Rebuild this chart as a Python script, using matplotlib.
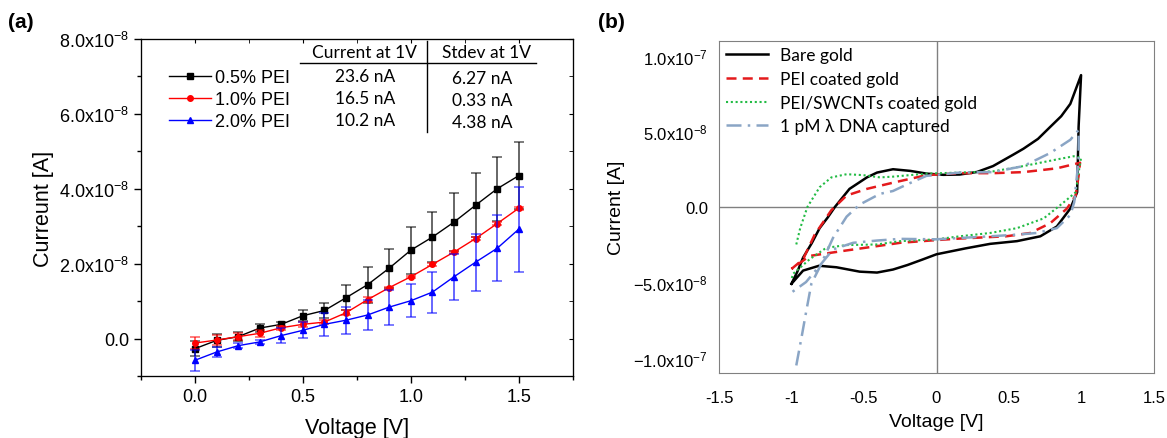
import numpy as np
import matplotlib
matplotlib.use("Agg")
import matplotlib.pyplot as plt
from matplotlib.lines import Line2D
from matplotlib.ticker import MultipleLocator, FuncFormatter

plt.rcParams.update({"font.family": "Liberation Sans",
                     "mathtext.default": "regular",
                     "axes.unicode_minus": False})

# ---- panel (a): I-V with error bars
voltage = [0.0, 0.1, 0.2, 0.3, 0.4, 0.5, 0.6, 0.7, 0.8, 0.9, 1.0, 1.1, 1.2, 1.3, 1.4, 1.5]
pei_05 = [-2.7, -0.5, 0.5, 2.8, 3.8, 6.1, 7.5, 10.9, 14.4, 18.8, 23.6, 27.1, 31.1, 35.6, 40.0, 43.5]
pei_05_err = [2.0, 1.8, 1.2, 1.0, 0.6, 1.5, 2.0, 3.4, 4.8, 5.2, 6.27, 6.6, 7.8, 8.6, 8.5, 8.9]
pei_10 = [-1.2, -0.4, 0.5, 1.4, 2.9, 3.8, 4.4, 6.9, 10.4, 13.6, 16.5, 19.8, 23.1, 26.7, 30.7, 34.8]
pei_10_err = [1.6, 1.3, 1.0, 1.0, 0.5, 0.7, 0.5, 0.6, 0.7, 0.3, 0.33, 0.3, 0.3, 0.4, 0.4, 0.4]
pei_20 = [-5.8, -3.6, -1.9, -0.9, 0.8, 2.2, 3.8, 4.9, 6.3, 8.4, 10.1, 12.4, 16.5, 20.4, 24.1, 29.2]
pei_20_err = [2.8, 1.4, 0.6, 0.6, 2.0, 2.1, 3.0, 3.6, 4.0, 4.7, 4.38, 5.5, 6.1, 7.6, 8.8, 11.3]
labels_a = ["0.5% PEI", "1.0% PEI", "2.0% PEI"]
table_head = ["Current at 1V", "Stdev at 1V"]
table_current = ["23.6 nA", "16.5 nA", "10.2 nA"]
table_stdev = ["6.27 nA", "0.33 nA", "4.38 nA"]

# ---- panel (b): cyclic voltammograms (current in 1e-8 A)
bare_v = [-1.0, -0.96, -0.92, -0.86, -0.806, -0.75, -0.70, -0.60, -0.48, -0.41, -0.30, -0.18, -0.068,
          0.047, 0.16, 0.28, 0.39, 0.53, 0.60, 0.70, 0.785, 0.86, 0.923, 0.997, 0.98, 0.97, 0.923,
          0.83, 0.716, 0.555, 0.37, 0.2, 0.0, -0.1, -0.2, -0.3, -0.41, -0.53, -0.69, -0.81, -0.92, -1.0]
bare_i = [-5.09, -4.3, -3.36, -2.4, -1.41, -0.7, 0.0, 1.19, 1.95, 2.27, 2.49, 2.38, 2.2,
          2.12, 2.14, 2.31, 2.7, 3.46, 3.85, 4.5, 5.3, 6.0, 6.82, 8.72, 5.3, 0.97, -0.11,
          -1.3, -1.95, -2.27, -2.45, -2.75, -3.14, -3.5, -3.85, -4.15, -4.35, -4.29, -4.0, -3.9, -4.22, -5.09]
pei_v = [-1.0, -0.92, -0.84, -0.725, -0.62, -0.48, -0.30, -0.068, 0.16, 0.39, 0.60, 0.83, 0.99,
         0.98, 0.96, 0.90, 0.785, 0.647, 0.48, 0.37, 0.16, 0.0, -0.25, -0.41, -0.645, -0.875, -1.0]
pei_i = [-4.11, -3.47, -1.84, -0.22, 0.75, 1.19, 1.6, 2.1, 2.23, 2.23, 2.3, 2.55, 2.92,
         2.06, 0.76, -0.11, -1.08, -1.73, -1.95, -2.0, -2.1, -2.2, -2.38, -2.6, -2.92, -3.25, -4.11]
swcnt_v = [-0.967, -0.94, -0.89, -0.806, -0.725, -0.62, -0.506, -0.39, -0.30, -0.068, 0.16, 0.39,
           0.60, 0.83, 0.946, 0.997, 0.98, 0.96, 0.88, 0.74, 0.555, 0.37, 0.16, 0.0, -0.25, -0.41,
           -0.62, -0.76, -0.875, -0.99, -1.0]
swcnt_i = [-2.49, -1.41, 0.0, 1.3, 1.95, 2.16, 2.1, 1.95, 2.0, 2.2, 2.27, 2.35,
           2.7, 3.14, 3.35, 3.25, 2.27, 0.97, 0.32, -0.76, -1.41, -1.73, -1.95, -2.15, -2.27, -2.49,
           -2.53, -2.71, -3.47, -4.44, -4.8]
dna_v = [-0.967, -0.93, -0.90, -0.863, -0.806, -0.714, -0.62, -0.53, -0.39, -0.30, -0.2, -0.07,
         0.16, 0.39, 0.60, 0.785, 0.923, 0.98, 0.98, 0.95, 0.923, 0.83, 0.69, 0.555, 0.37, 0.0,
         -0.25, -0.41, -0.575, -0.714, -0.806, -0.90, -1.0]
dna_i = [-10.5, -8.6, -7.0, -5.09, -4.0, -2.06, -0.65, 0.15, 0.86, 1.05, 1.5, 2.05,
         2.27, 2.3, 2.7, 3.57, 4.44, 5.09, 3.14, 0.32, -0.54, -1.41, -1.73, -1.84, -1.95, -2.15,
         -2.12, -2.23, -2.38, -2.82, -3.9, -4.98, -5.67]
labels_b = ["Bare gold", "PEI coated gold", "PEI/SWCNTs coated gold", "1 pM \u03bb DNA captured"]

W, H = 1167, 439
fig = plt.figure(figsize=(W / 100, H / 100), dpi=100)

def fx(px):
    return px / W

def fy(py):
    return 1 - py / H

# ---------------- (a)
ax1 = fig.add_axes([fx(141), fy(377), fx(572.7 - 141), (377 - 40) / H])
v = np.array(voltage)
series = [(pei_05, pei_05_err, "black", "s"),
          (pei_10, pei_10_err, "red", "o"),
          (pei_20, pei_20_err, "blue", "^")]
handles = []
for (vals, errs, col, mk), lab in zip(series, labels_a):
    y = np.array(vals) * 1e-9
    e = np.array(errs) * 1e-9
    ax1.errorbar(v, y, yerr=e, fmt="none", ecolor=col, alpha=0.6, elinewidth=1.4, capsize=3.5, capthick=1.2)
    h, = ax1.plot(v, y, color=col, marker=mk, markersize=4, lw=1.0, label=lab)
    handles.append(h)

ax1.set_xlim(-0.25, 1.75)
ax1.set_ylim(-1e-8, 8e-8)
ax1.xaxis.set_major_locator(MultipleLocator(0.5))
ax1.xaxis.set_minor_locator(MultipleLocator(0.25))
ax1.yaxis.set_major_locator(MultipleLocator(2e-8))
ax1.yaxis.set_minor_locator(MultipleLocator(1e-8))
ax1.xaxis.set_major_formatter(FuncFormatter(lambda x, p: f"{x:.1f}"))

def fmt_a(val, pos):
    if abs(val) < 1e-15:
        return "0.0"
    return "$%.1fx10^{-8}$" % (val / 1e-8)

ax1.yaxis.set_major_formatter(FuncFormatter(fmt_a))
ax1.tick_params(which="both", direction="out", labelsize=13, width=1)
ax1.tick_params(which="major", length=5)
ax1.tick_params(which="minor", length=3)
ax1b = ax1.twinx()
ax1b.set_ylim(ax1.get_ylim())
ax1b.yaxis.set_major_locator(MultipleLocator(2e-8))
ax1b.yaxis.set_minor_locator(MultipleLocator(1e-8))
ax1b.tick_params(which="both", direction="in", labelright=False, length=3)
axt = ax1.twiny()
axt.set_xlim(ax1.get_xlim())
axt.xaxis.set_major_locator(MultipleLocator(0.5))
axt.xaxis.set_minor_locator(MultipleLocator(0.25))
axt.tick_params(which="both", direction="in", labeltop=False, length=3)
ax1.set_xlabel("Voltage [V]", fontsize=15.5, labelpad=9)
ax1.set_ylabel("Curreunt [A]", fontsize=15.5, labelpad=4)

leg = ax1.legend(handles=handles, loc="upper left", bbox_to_anchor=(fx(169), fy(70)),
                 bbox_transform=fig.transFigure, frameon=False, fontsize=13,
                 handlelength=2.3, handletextpad=0.25, labelspacing=0.28,
                 borderpad=0, borderaxespad=0)

tfont = dict(family="Lato", fontsize=12.5, ha="center", va="center")
fig.text(fx(364), fy(53), table_head[0], **tfont)
fig.text(fx(487), fy(53), table_head[1], **tfont)
for i, (c, s) in enumerate(zip(table_current, table_stdev)):
    fig.text(fx(365), fy(77 + 22 * i), c, **tfont)
    fig.text(fx(482), fy(79 + 22 * i), s, **tfont)
fig.add_artist(Line2D([fx(300), fx(536)], [fy(63.5), fy(63.5)], color="black", lw=1))
fig.add_artist(Line2D([fx(427), fx(427)], [fy(42), fy(133)], color="black", lw=1))

fig.text(fx(8), fy(22), "(a)", fontsize=15, fontweight="bold", va="center")

# ---------------- (b)
ax2 = fig.add_axes([fx(719), fy(374), fx(1154 - 719), (374 - 41.7) / H])
ax2.axhline(0, color="#808080", lw=1, zorder=0)
ax2.axvline(0, color="#808080", lw=1, zorder=0)
ax2.plot(bare_v, np.array(bare_i) * 1e-8, color="black", lw=1.8, label=labels_b[0])
ax2.plot(pei_v, np.array(pei_i) * 1e-8, color="#e41a1c", lw=1.8, ls=(0, (4, 2.5)), label=labels_b[1])
ax2.plot(swcnt_v, np.array(swcnt_i) * 1e-8, color="#22bb44", lw=1.5, ls=(0, (1, 1.3)), label=labels_b[2])
ax2.plot(dna_v, np.array(dna_i) * 1e-8, color="#8aa5c5", lw=1.8, ls=(0, (6, 2.5, 1, 2.5)), label=labels_b[3])
ax2.set_xlim(-1.5, 1.5)
ax2.set_ylim(-1.1e-7, 1.1e-7)
ax2.xaxis.set_major_locator(MultipleLocator(0.5))
ax2.set_yticks([-1e-7, -5e-8, 0, 5e-8, 1e-7])
ax2.xaxis.set_major_formatter(FuncFormatter(lambda x, p: "0" if abs(x) < 1e-9 else ("%g" % x)))

def fmt_b(val, pos):
    if abs(val) < 1e-15:
        return "0.0"
    e = int(np.floor(np.log10(abs(val)) + 1e-9))
    return "$%.1fx10^{%d}$" % (val / 10 ** e, e)

ax2.yaxis.set_major_formatter(FuncFormatter(fmt_b))
for sp in ax2.spines.values():
    sp.set_color("#808080")
ax2.tick_params(length=0, labelsize=12, pad=8)
ax2.tick_params(axis="x", pad=12)
ax2.set_xlabel("Voltage [V]", fontsize=14, labelpad=6)
ax2.set_ylabel("Current [A]", fontsize=14, labelpad=6)
ax2.legend(loc="upper left", bbox_to_anchor=(fx(726), fy(48)), bbox_transform=fig.transFigure,
           frameon=False, prop={"family": "Lato", "size": 12.5},
           handlelength=2.4, handletextpad=0.7, labelspacing=0.45, borderpad=0, borderaxespad=0)

fig.text(fx(598), fy(22), "(b)", fontsize=15, fontweight="bold", va="center")

fig.savefig("out.png", dpi=100)
